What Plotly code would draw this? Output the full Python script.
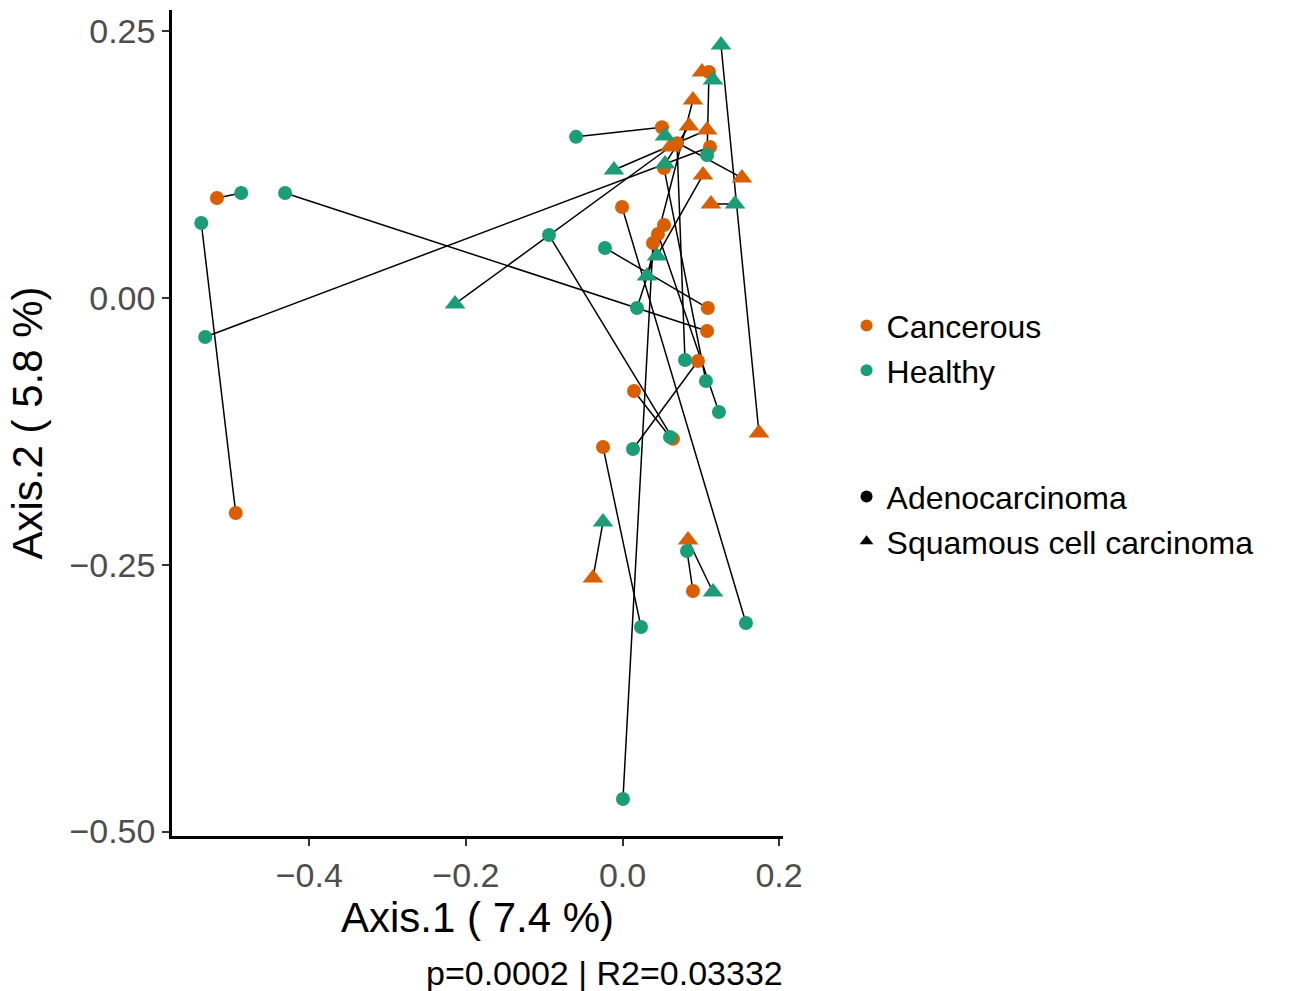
import plotly.graph_objects as go

# Paired samples (one entry per patient): healthy tissue vs cancerous tissue
histology = ["Adenocarcinoma"] * 18 + ["Squamous cell carcinoma"] * 11
healthy_x = [-0.487, -0.538, -0.431, -0.533, -0.0594, -0.0939, 0.0134, -0.0224, 0.0607,
             0.0236, 0.0824, 0.1577, 0.0798, 0.1066, 0.108, 0.1232, 0.0006, 0.0185,
             0.1258, 0.0543, 0.1437, 0.0441, 0.0313, -0.2139, -0.0109, -0.0249, 0.1156,
             0.1156, 0.0543]
healthy_y = [0.0984, 0.0703, 0.0984, -0.0366, 0.151, 0.059, -0.1415, 0.0469, -0.1303,
             -0.3083, -0.2371, -0.3046, -0.0581, -0.0778, 0.134, -0.1068, -0.4695, -0.0094,
             0.2371, 0.1518, 0.0881, 0.0394, 0.0206, -0.0056, 0.12, -0.21, -0.2755,
             0.2043, 0.1256]
cancer_x = [-0.518, -0.494, 0.108, 0.1117, 0.0504, 0.0645, 0.0964, 0.109, 0.0147,
            -0.0249, 0.090, -0.0006, 0.0696, 0.053, 0.1105, 0.0453, 0.039, 0.053,
            0.1743, 0.1526, 0.113, 0.1028, 0.090, 0.0607, 0.108, -0.0377, 0.0837,
            0.1015, 0.0849]
cancer_y = [0.0937, -0.2015, -0.0309, 0.1415, 0.160, -0.132, -0.059, -0.0094, -0.0872,
            -0.1396, -0.2746, 0.0853, 0.145, 0.1218, 0.2118, 0.060, 0.0515, 0.0684,
            -0.1265, 0.1125, 0.0881, 0.1153, 0.1856, 0.1415, 0.1575, -0.2624, -0.2268,
            0.2118, 0.1612]

x_ticks = [-0.4, -0.2, 0.0, 0.2]
x_ticktext = ["\u22120.4", "\u22120.2", "0.0", "0.2"]
y_ticks = [0.25, 0.0, -0.25, -0.5]
y_ticktext = ["0.25", "0.00", "\u22120.25", "\u22120.50"]

COL = {"Cancerous": "#D95F02", "Healthy": "#1B9E77"}
SYM = {"Adenocarcinoma": "circle", "Squamous cell carcinoma": "triangle-up"}
SIZE = {"Adenocarcinoma": 14, "Squamous cell carcinoma": 18}
FONT = "Liberation Sans, Arial, sans-serif"

fig = go.Figure()

# connecting lines between paired samples
lx, ly = [], []
for hx, hy, cx, cy in zip(healthy_x, healthy_y, cancer_x, cancer_y):
    lx += [hx, cx, None]
    ly += [hy, cy, None]
fig.add_trace(go.Scatter(x=lx, y=ly, mode="lines", line=dict(color="black", width=1.5),
                         showlegend=False, hoverinfo="skip"))

# points
for status, xs, ys in [("Cancerous", cancer_x, cancer_y), ("Healthy", healthy_x, healthy_y)]:
    for hist in SYM:
        px = [x for x, h in zip(xs, histology) if h == hist]
        py = [y for y, h in zip(ys, histology) if h == hist]
        fig.add_trace(go.Scatter(x=px, y=py, mode="markers", showlegend=False,
                                 marker=dict(color=COL[status], symbol=SYM[hist], size=SIZE[hist],
                                             line=dict(width=0))))

# legend entries
for status in COL:
    fig.add_trace(go.Scatter(x=[None], y=[None], mode="markers", name=status, legend="legend",
                             marker=dict(color=COL[status], symbol="circle", size=13, line=dict(width=0))))
for hist in SYM:
    fig.add_trace(go.Scatter(x=[None], y=[None], mode="markers", name=hist, legend="legend2",
                             marker=dict(color="black", symbol=SYM[hist],
                                         size=13 if hist == "Adenocarcinoma" else 16, line=dict(width=0))))

axis_common = dict(showgrid=False, zeroline=False, showline=True, linecolor="black", linewidth=2.5,
                   ticks="outside", ticklen=7, tickwidth=2, tickcolor="#333333",
                   tickfont=dict(family=FONT, size=34, color="#4D4D4D"))

fig.update_layout(
    width=1305, height=991,
    margin=dict(l=172, r=522, t=10, b=155),
    paper_bgcolor="white", plot_bgcolor="white",
    xaxis=dict(range=[-0.5754, 0.205], tickvals=x_ticks, ticktext=x_ticktext,
               title=dict(text="Axis.1 ( 7.4 %)", font=dict(family=FONT, size=42, color="black"), standoff=6),
               **axis_common),
    yaxis=dict(range=[-0.5042, 0.2699], tickvals=y_ticks, ticktext=y_ticktext,
               title=dict(text="Axis.2 ( 5.8 %)", font=dict(family=FONT, size=42, color="black"), standoff=14),
               **axis_common),
    legend=dict(x=1.104, xanchor="left", y=0.651, yanchor="top", bgcolor="rgba(0,0,0,0)",
                font=dict(family=FONT, size=32, color="black"), itemsizing="constant",
                tracegroupgap=0),
    legend2=dict(x=1.104, xanchor="left", y=0.444, yanchor="top", bgcolor="rgba(0,0,0,0)",
                 font=dict(family=FONT, size=32, color="black"), itemsizing="constant",
                 tracegroupgap=0),
    annotations=[dict(text="p=0.0002 | R2=0.03332", xref="paper", yref="paper", x=1.004, y=-0.166,
                      xanchor="right", yanchor="middle", showarrow=False,
                      font=dict(family=FONT, size=34, color="black"))],
)

fig.write_html("out.html")
